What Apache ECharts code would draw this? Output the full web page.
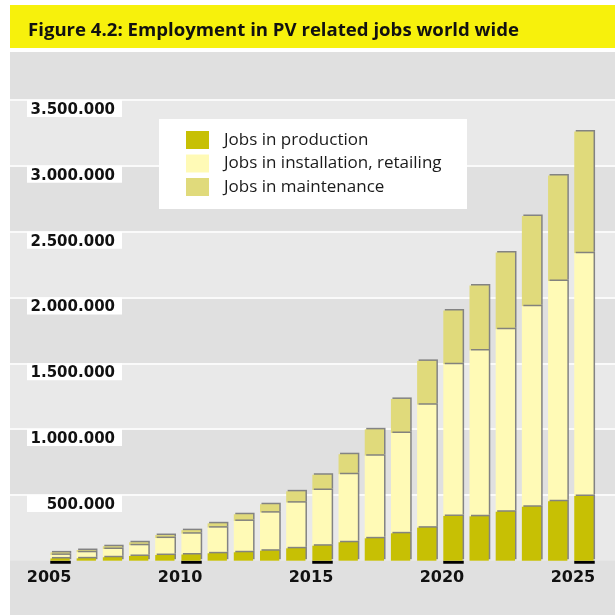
<!DOCTYPE html>
<html>
<head>
<meta charset="utf-8">
<script src="https://cdn.jsdelivr.net/npm/echarts@6/dist/echarts.min.js"></script>
<style>
  html, body { margin: 0; padding: 0; background: #fff; }
  #chart { width: 615px; height: 615px; }
</style>
</head>
<body>
<div id="chart"></div>
<script>
// Employment in PV related jobs, 2005-2025 (jobs per year, stacked)
const years = ['2005','2006','2007','2008','2009','2010','2011','2012','2013','2014','2015',
               '2016','2017','2018','2019','2020','2021','2022','2023','2024','2025'];
const labeledYears = ['2005','2010','2015','2020','2025'];

const production   = [17000, 18000, 26000, 36000, 43000, 47000, 56000, 64000, 76000, 94000, 114000,
                      140000, 170000, 208000, 251000, 340000, 337000, 372000, 410000, 451000, 492000];
const installation = [27000, 46000, 63000, 81000, 129000, 158000, 195000, 238000, 289000, 347000, 423000,
                      517000, 628000, 762000, 934000, 1152000, 1259000, 1386000, 1523000, 1674000, 1844000];
const maintenance  = [19000, 17000, 21000, 23000, 23000, 27000, 33000, 51000, 64000, 86000, 116000,
                      152000, 200000, 259000, 333000, 408000, 494000, 583000, 686000, 801000, 924000];

const seriesNames = ['Jobs in production', 'Jobs in installation, retailing', 'Jobs in maintenance'];
const seriesColors = ['#c7c004', '#fffab6', '#e0da7b'];

const yMax = 3500000;
const yStep = 500000;

const chart = echarts.init(document.getElementById('chart'), null, { renderer: 'canvas' });

function thousands(v) {
  return String(v).replace(/\B(?=(\d{3})+(?!\d))/g, '.');
}

const plotTop = 100;
const plotBottom = 54.3;

const barStyle = (color) => ({
  color: color,
  shadowColor: 'rgba(125,125,125,0.95)',
  shadowBlur: 0,
  shadowOffsetX: 1.5,
  shadowOffsetY: -1.5
});

const option = {
  animation: false,
  textStyle: { fontFamily: 'DejaVu Sans' },
  title: {
    text: 'Figure 4.2: Employment in PV related jobs world wide',
    left: 23,
    top: 16,
    textStyle: { fontFamily: 'Open Sans', fontWeight: 'bold', fontSize: 18.6, color: '#111' }
  },
  graphic: [
    { type: 'rect', z: -10, shape: { x: 10, y: 5, width: 605, height: 43 }, style: { fill: '#f7f10c' } },
    { type: 'rect', z: -10, shape: { x: 10, y: 52, width: 605, height: 563 }, style: { fill: '#e0e0e0' } }
  ],
  legend: {
    data: seriesNames,
    orient: 'vertical',
    left: 159,
    top: 119,
    padding: [12, 17, 13, 27],
    backgroundColor: '#ffffff',
    itemWidth: 23,
    itemHeight: 18,
    itemGap: 5.5,
    icon: 'rect',
    itemStyle: { shadowBlur: 0, shadowOffsetX: 0, shadowOffsetY: 0, shadowColor: 'transparent', borderWidth: 0 },
    textStyle: { fontFamily: 'Open Sans', fontSize: 17, color: '#1a1a1a', lineHeight: 18, width: 226, padding: [0, 0, 0, 10] }
  },
  grid: [
    { left: 10, right: 0, top: plotTop, bottom: plotBottom },
    { left: 47, right: 18, top: plotTop, bottom: plotBottom }
  ],
  xAxis: [
    { gridIndex: 0, type: 'value', min: 0, max: 1, show: false },
    {
      gridIndex: 1,
      type: 'category',
      data: years,
      axisLine: { show: false },
      axisTick: {
        show: true,
        alignWithLabel: true,
        interval: (i, v) => labeledYears.includes(v),
        length: 3,
        lineStyle: { color: '#000', width: 20.5 }
      },
      axisLabel: {
        interval: (i, v) => labeledYears.includes(v),
        margin: 9,
        fontFamily: 'DejaVu Sans',
        fontWeight: 'bold',
        fontSize: 16,
        color: '#111',
        align: 'center',
        padding: [0, 22, 0, 0]
      }
    }
  ],
  yAxis: [
    {
      gridIndex: 0,
      type: 'value',
      min: 0,
      max: yMax,
      interval: yStep,
      axisLine: { show: false },
      axisTick: { show: false },
      splitLine: { show: true, showMinLine: false, lineStyle: { color: '#fafafa', width: 2 } },
      splitArea: { show: true, areaStyle: { color: ['#e9e9e9', '#e0e0e0'] } },
      axisLabel: {
        inside: true,
        margin: 112,
        align: 'right',
        verticalAlign: 'top',
        showMinLabel: false,
        showMaxLabel: true,
        formatter: thousands,
        backgroundColor: '#ffffff',
        width: 88,
        padding: [3, 7, 0, 0],
        lineHeight: 14,
        fontFamily: 'DejaVu Sans',
        fontWeight: 'bold',
        fontSize: 15,
        color: '#111'
      }
    },
    { gridIndex: 1, type: 'value', min: 0, max: yMax, interval: yStep, show: false }
  ],
  series: [
    { name: seriesNames[0], type: 'bar', stack: 'jobs', xAxisIndex: 1, yAxisIndex: 1, barWidth: 19.3, z: 5,
      data: production, itemStyle: barStyle(seriesColors[0]) },
    { name: seriesNames[1], type: 'bar', stack: 'jobs', xAxisIndex: 1, yAxisIndex: 1, barWidth: 19.3, z: 4,
      data: installation, itemStyle: barStyle(seriesColors[1]) },
    { name: seriesNames[2], type: 'bar', stack: 'jobs', xAxisIndex: 1, yAxisIndex: 1, barWidth: 19.3, z: 3,
      data: maintenance, itemStyle: barStyle(seriesColors[2]) }
  ]
};

chart.setOption(option);
</script>
</body>
</html>
